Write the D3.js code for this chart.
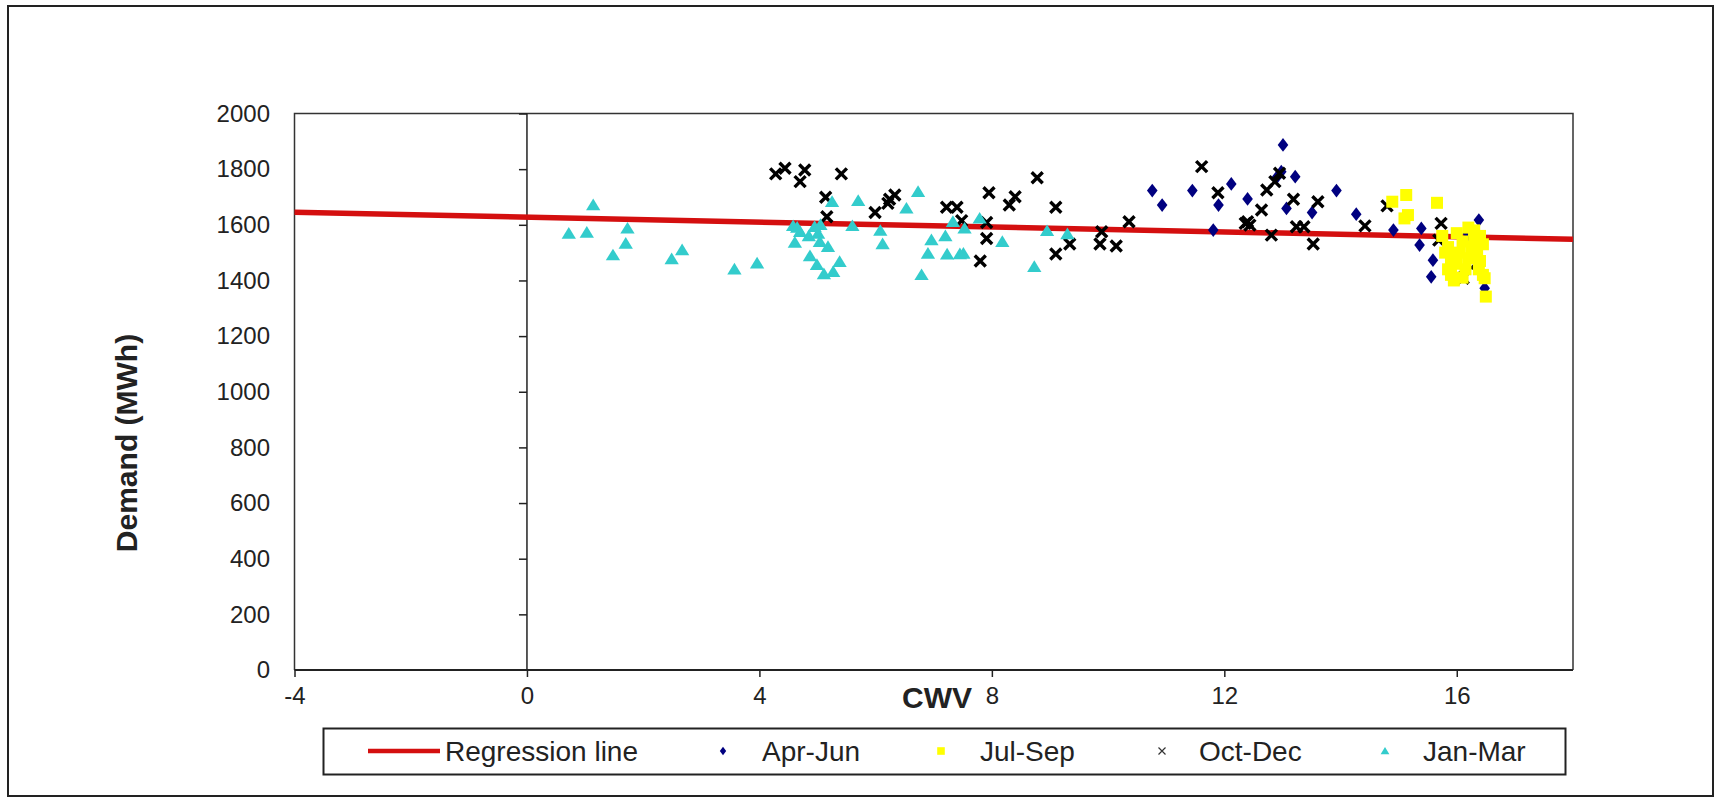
<!DOCTYPE html>
<html>
<head>
<meta charset="utf-8">
<script src="https://cdn.jsdelivr.net/npm/d3@7"></script>
<style>
  html, body { margin: 0; padding: 0; background: #fff; }
  svg { display: block; }
  text { font-family: "Liberation Sans", Arial, sans-serif; fill: #222; }
</style>
</head>
<body>
<svg id="chart" width="1719" height="802"></svg>
<script>
// ---- data ----
const xTicks = [-4, 0, 4, 8, 12, 16];
const yTicks = [0, 200, 400, 600, 800, 1000, 1200, 1400, 1600, 1800, 2000];
const seriesNames = ["Regression line", "Apr-Jun", "Jul-Sep", "Oct-Dec", "Jan-Mar"];

const regressionX = [-4, 18];
const regressionY = [1645, 1548];

const aprJun = [
  [10.76,1723],[10.93,1671],[11.45,1723],[11.81,1581],[11.90,1671],[12.12,1747],
  [12.40,1693],[13.01,1887],[12.98,1791],[13.22,1773],[13.07,1659],[13.51,1644],
  [13.93,1723],[14.27,1638],[14.91,1581],[15.39,1587],[15.36,1527],[15.59,1473],
  [15.56,1413],[16.38,1617],[16.22,1563],[16.48,1372],[16.19,1569],[16.05,1410],[12.90,1770]
];
const julSep = [
  [14.89,1683],[15.13,1707],[15.16,1635],[15.10,1623],[15.66,1679],
  [15.75,1560],[15.85,1520],[15.90,1480],[15.85,1440],[15.95,1400],[16.00,1460],
  [16.05,1500],[16.10,1540],[16.00,1570],[16.15,1440],[16.20,1480],[16.25,1520],
  [16.30,1550],[16.35,1500],[16.40,1560],[16.45,1530],[16.40,1470],[16.45,1420],
  [16.48,1408],[16.50,1342],[15.90,1420],[16.10,1410],[16.30,1580],[16.20,1590],
  [15.80,1500],[16.38,1440]
];
const octDec = [
  [4.28,1783],[4.44,1803],[4.78,1797],[4.70,1755],[5.41,1783],[5.14,1699],[5.16,1629],
  [5.99,1644],[6.21,1677],[6.33,1707],[6.24,1692],[7.22,1663],[7.40,1663],[7.48,1615],
  [7.95,1715],[7.91,1608],[7.91,1551],[7.80,1470],[8.40,1701],[8.30,1671],[8.78,1769],
  [9.10,1663],[9.10,1495],[9.34,1531],[9.89,1575],[9.86,1531],[10.14,1524],[10.36,1611],
  [11.61,1809],[11.89,1715],[12.40,1611],[12.44,1599],[12.36,1605],[12.64,1653],
  [12.73,1725],[12.87,1755],[12.95,1785],[12.81,1563],[13.19,1692],[13.24,1593],
  [13.37,1593],[13.61,1683],[13.53,1531],[14.42,1596],[14.80,1668],[15.73,1605],
  [15.69,1545],[16.11,1408],[16.34,1462]
];
const janMar = [
  [0.72,1569],[1.03,1572],[1.14,1671],[1.73,1587],[1.70,1533],[1.48,1491],[2.49,1477],
  [2.67,1509],[3.57,1440],[3.96,1462],[4.58,1596],[4.70,1575],[4.61,1536],[4.95,1593],
  [5.01,1569],[5.04,1539],[5.18,1521],[4.87,1488],[4.99,1456],[5.11,1423],[5.27,1431],
  [5.38,1467],[5.25,1683],[5.70,1686],[5.60,1596],[6.08,1579],[6.12,1531],[6.53,1659],
  [6.73,1719],[6.79,1420],[6.96,1545],[6.90,1497],[7.20,1560],[7.23,1494],[7.33,1611],
  [7.53,1587],[7.51,1497],[7.45,1495],[7.79,1623],[8.18,1539],[8.73,1449],[8.95,1578],
  [9.30,1567],[4.65,1590],[5.05,1600],[4.85,1560]
];

// ---- layout ----
const svg = d3.select("#chart");
const plot = { left: 294.5, right: 1573, top: 113.5, bottom: 670 };
const x = d3.scaleLinear().domain([-4, 18]).range([plot.left, plot.right]);
const y = d3.scaleLinear().domain([0, 2000]).range([plot.bottom, plot.top]);
const fmt = d => String(d);

const colors = { reg: "#d40f0f", apr: "#000080", jul: "#ffff00", oct: "#000000", jan: "#33cccc" };

// outer frame
svg.append("rect").attr("x", 8).attr("y", 6).attr("width", 1705).attr("height", 790)
  .attr("fill", "#fff").attr("stroke", "#222").attr("stroke-width", 2);

// plot area border (top, left, right)
svg.append("path")
  .attr("d", `M${plot.left},${plot.bottom}V${plot.top}H${plot.right}V${plot.bottom}`)
  .attr("fill", "none").attr("stroke", "#333").attr("stroke-width", 1.5);

// x axis
const xAxis = svg.append("g").attr("transform", `translate(0,${y(0)})`)
  .call(d3.axisBottom(x).tickValues(xTicks).tickFormat(fmt).tickSizeInner(7).tickSizeOuter(0).tickPadding(10));
xAxis.select(".domain").attr("stroke", "#222").attr("stroke-width", 1.8)
  .attr("d", `M${plot.left},0H${plot.right}`);
xAxis.selectAll(".tick line").attr("stroke", "#222").attr("stroke-width", 1.5);
xAxis.selectAll(".tick text").attr("font-size", 24).attr("font-family", "Liberation Sans, Arial, sans-serif").attr("fill", "#222");

// y axis at x = 0
const yAxis = svg.append("g").attr("transform", `translate(${x(0)},0)`)
  .call(d3.axisLeft(y).tickValues(yTicks).tickFormat(fmt).tickSizeInner(8).tickSizeOuter(0));
yAxis.select(".domain").attr("stroke", "#222").attr("stroke-width", 1.5)
  .attr("d", `M0,${plot.bottom}V${plot.top}`);
yAxis.selectAll(".tick line").attr("stroke", "#222").attr("stroke-width", 1.5)
  .filter(d => d === 0).remove();
yAxis.selectAll(".tick text")
  .attr("x", 270 - x(0)).attr("text-anchor", "end")
  .attr("font-size", 24).attr("font-family", "Liberation Sans, Arial, sans-serif").attr("fill", "#222");

// axis titles
svg.append("text").attr("x", 937).attr("y", 708).attr("text-anchor", "middle")
  .attr("font-size", 30).attr("font-weight", "bold").text("CWV");
svg.append("text").attr("transform", "translate(137,443) rotate(-90)")
  .attr("text-anchor", "middle").attr("font-size", 30).attr("font-weight", "bold")
  .text("Demand (MWh)");

// regression line
const regData = regressionX.map((v, i) => [v, regressionY[i]]);
svg.append("path").datum(regData)
  .attr("d", d3.line().x(d => x(d[0])).y(d => y(d[1])))
  .attr("fill", "none").attr("stroke", colors.reg).attr("stroke-width", 5.5);

// marker shapes
const diamond = (s) => `M0,${-s*1.3}L${s},0L0,${s*1.3}L${-s},0Z`;
const triangle = (s) => `M0,${-s}L${s*1.1},${s*0.8}L${-s*1.1},${s*0.8}Z`;
const square = (s) => `M${-s},${-s}H${s}V${s}H${-s}Z`;
const cross = (s) => `M${-s},${-s}L${s},${s}M${s},${-s}L${-s},${s}`;

function drawSeries(data, pathStr, fill, stroke, sw) {
  svg.append("g").selectAll("path").data(data).join("path")
    .attr("transform", d => `translate(${x(d[0])},${y(d[1])})`)
    .attr("d", pathStr)
    .attr("fill", fill).attr("stroke", stroke).attr("stroke-width", sw);
}
drawSeries(aprJun, diamond(5.3), colors.apr, "none", 0);
drawSeries(octDec, cross(5.5), "none", colors.oct, 3.4);
drawSeries(janMar, triangle(6.5), colors.jan, "none", 0);
drawSeries(julSep, square(6), colors.jul, "none", 0);

// legend
const lg = svg.append("g");
lg.append("rect").attr("x", 323.5).attr("y", 728.5).attr("width", 1242).attr("height", 46)
  .attr("fill", "#fff").attr("stroke", "#222").attr("stroke-width", 2);
const ly = 751;
lg.append("line").attr("x1", 368).attr("x2", 440).attr("y1", ly).attr("y2", ly)
  .attr("stroke", colors.reg).attr("stroke-width", 4.5);
const legendItems = [
  { name: seriesNames[0], tx: 445 },
  { name: seriesNames[1], mx: 723, tx: 762, d: diamond(3.2), fill: colors.apr, stroke: "none", sw: 0 },
  { name: seriesNames[2], mx: 941, tx: 980, d: square(3.8), fill: colors.jul, stroke: "none", sw: 0 },
  { name: seriesNames[3], mx: 1162, tx: 1199, d: cross(3.5), fill: "none", stroke: "#333", sw: 1.2 },
  { name: seriesNames[4], mx: 1385, tx: 1423, d: triangle(4), fill: colors.jan, stroke: "none", sw: 0 }
];
legendItems.forEach(it => {
  if (it.d) {
    lg.append("path").attr("transform", `translate(${it.mx},${ly})`).attr("d", it.d)
      .attr("fill", it.fill).attr("stroke", it.stroke).attr("stroke-width", it.sw);
  }
  lg.append("text").attr("x", it.tx).attr("y", 761).attr("font-size", 28).text(it.name);
});
</script>
</body>
</html>
